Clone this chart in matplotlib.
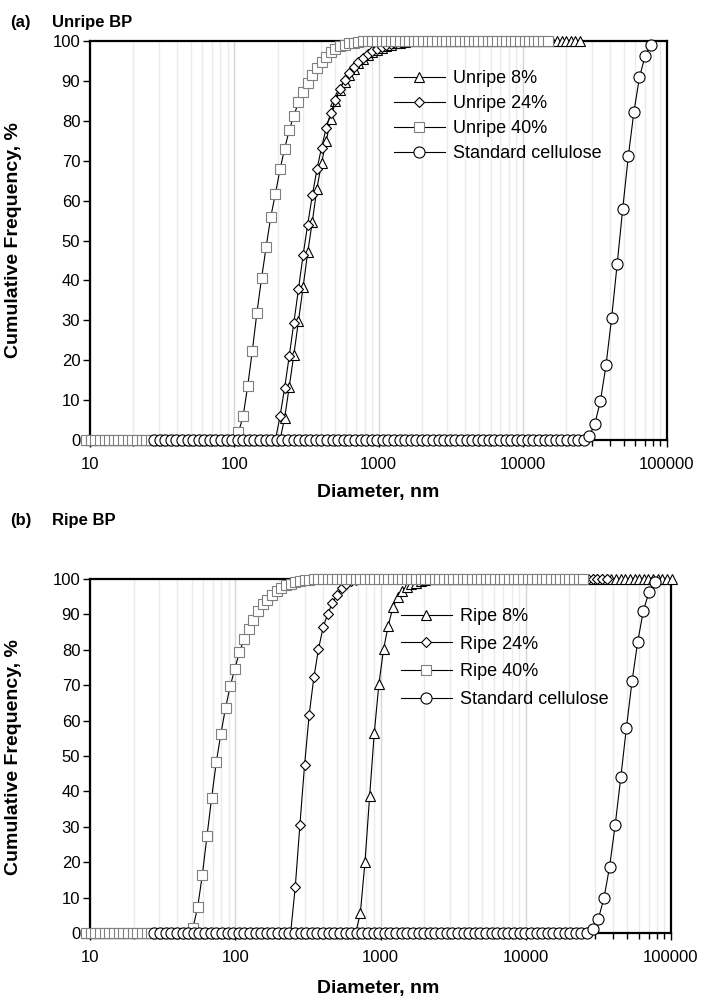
import matplotlib
matplotlib.use("Agg")
import matplotlib.pyplot as plt
from matplotlib.ticker import LogLocator, NullFormatter, FuncFormatter

plt.rcParams['font.family'] = ['Liberation Sans', 'DejaVu Sans']

# size classes of the BP samples (nm)
d_sample = [9.40, 10.12, 10.89, 11.73, 12.62, 13.59, 14.63, 15.74, 16.95, 18.24,
            19.64, 21.14, 22.76, 24.50, 26.37, 28.39, 30.56, 32.89, 35.41, 38.12,
            41.03, 44.17, 47.55, 51.18, 55.10, 59.31, 63.85, 68.73, 73.99, 79.64,
            85.74, 92.29, 99.35, 106.9, 115.1, 123.9, 133.4, 143.6, 154.6, 166.4,
            179.1, 192.8, 207.6, 223.4, 240.5, 258.9, 278.7, 300.0, 322.9, 347.6,
            374.2, 402.8, 433.6, 466.8, 502.5, 540.9, 582.3, 626.8, 674.7, 726.3,
            781.8, 841.6, 906.0, 975.2, 1050, 1130, 1217, 1310, 1410, 1517,
            1633, 1758, 1893, 2038, 2193, 2361, 2542, 2736, 2945, 3170,
            3413, 3673, 3954, 4257, 4582, 4933, 5310, 5716, 6153, 6623,
            7130, 7675, 8262, 8894, 9574, 10306, 11094, 11942, 12855, 13838,
            14896, 16035, 17262, 18582, 20003, 21532, 23178, 24951, 26858, 28911,
            31122, 33501, 36063, 38820, 41788, 44983, 48422, 52124, 56109, 60399,
            65017, 69988, 75339, 81099, 87299, 93974, 101160]

# size classes of the standard cellulose (nm)
d_cellulose = [27.80, 30.38, 33.21, 36.31, 39.69, 43.39, 47.44, 51.86, 56.68, 61.97,
               67.74, 74.06, 80.96, 88.49, 96.72, 105.7, 115.6, 126.3, 138.1, 151.0,
               165.1, 180.4, 197.2, 215.6, 235.7, 257.6, 281.6, 307.9, 336.5, 367.9,
               402.2, 439.6, 480.6, 525.3, 574.3, 627.8, 686.3, 750.3, 820.1, 896.6,
               980.1, 1071, 1171, 1280, 1399, 1530, 1672, 1828, 1998, 2184,
               2388, 2610, 2854, 3119, 3410, 3728, 4075, 4455, 4869, 5323,
               5819, 6361, 6954, 7601, 8309, 9083, 9929, 10854, 11865, 12971,
               14179, 15500, 16943, 18521, 20246, 22131, 24193, 26446, 28907, 31600,
               34544, 37761, 41278, 45121, 49325, 53919, 58941, 64430, 70430, 76990]

# cumulative frequency, %
unripe_8 = [0] * 43 + [5.5, 13.3, 21.4, 29.8, 38.3, 47, 54.7, 63, 69.4, 74.9,
                       80.4, 84.9, 87.6, 89.8, 91.6, 93.1, 94.4, 95.5, 96.4, 97.2,
                       97.8, 98.3, 98.8, 99.1, 99.4, 99.6, 99.8, 99.9] + [100] * 37
unripe_24 = [0] * 42 + [5.9, 13, 21, 29.4, 37.8, 46.3, 54, 61.3, 67.8, 73.3,
                        78.1, 82, 85.3, 88, 90.2, 92, 93.5, 94.8, 95.8, 96.7,
                        97.4, 98, 98.5, 98.9, 99.2, 99.5, 99.7, 99.85] + [100] * 31
unripe_40 = [0] * 33 + [1.9, 5.9, 13.5, 22.3, 31.9, 40.5, 48.4, 55.9, 61.7, 67.8,
                        73, 77.6, 81.3, 84.6, 87.2, 89.4, 91.4, 93.2, 94.8, 96.1,
                        97.2, 98, 98.7, 99.1, 99.4, 99.6, 99.8, 99.9] + [100] * 40
ripe_8 = [0] * 59 + [5.6, 20, 38.6, 56.5, 70.4, 80.2, 86.8, 92, 94.8, 96.6,
                     97.7, 98.5, 99, 99.4, 99.7, 99.9] + [100] * 52
ripe_24 = [0] * 45 + [13, 30.6, 47.4, 61.7, 72.2, 80.2, 86.4, 90.2, 93.2, 95.6,
                      97.5, 98.6, 99.3, 99.7, 99.9] + [100] * 53
ripe_40 = [0] * 23 + [1.5, 7.3, 16.3, 27.3, 38.1, 48.2, 56.3, 63.6, 69.7, 74.7,
                      79.3, 83.1, 85.9, 88.5, 90.9, 92.8, 94.2, 95.4, 96.5, 97.5,
                      98.2, 98.7, 99.1, 99.4, 99.6, 99.8, 99.9] + [100] * 58
cellulose = [0] * 78 + [1, 4, 9.8, 18.7, 30.5, 44, 58, 71.1, 82.2, 90.9, 96.2, 99.1]

W, H = 709, 999
fig = plt.figure(figsize=(W / 100, H / 100), dpi=100)


def box(left, right, top, bottom):
    return [left / W, 1 - bottom / H, (right - left) / W, (bottom - top) / H]


def panel(ax, curves, names, legend_pos, spacing):
    styles = [('^', 'black', 7.6), ('D', 'black', 5.6), ('s', '#7f7f7f', 7.0), ('o', 'black', 8.0)]
    for i, ((x, y), name, (m, ec, ms)) in enumerate(zip(curves, names, styles)):
        ax.plot(x[:len(y)], y, color='black', lw=0.8, marker=m, ms=ms, mfc='white',
                mec=ec, mew=0.8, label=name, clip_on=False, zorder=3 + i)
    ax.set_xscale('log')
    ax.set_xlim(10, 100000)
    ax.set_ylim(0, 100)
    ax.set_yticks(range(0, 101, 10))
    ax.xaxis.set_major_formatter(FuncFormatter(lambda v, p: '%d' % round(v)))
    ax.xaxis.set_minor_locator(LogLocator(base=10, subs=range(2, 10)))
    ax.xaxis.set_minor_formatter(NullFormatter())
    ax.set_axisbelow(True)
    ax.grid(True, which='minor', axis='x', color='#ebebeb', lw=1)
    ax.grid(True, which='major', axis='x', color='#d6d6d6', lw=1)
    for s in ax.spines.values():
        s.set_linewidth(1.6)
    ax.tick_params(which='major', direction='out', length=5, width=1, labelsize=12)
    ax.tick_params(axis='x', which='major', pad=7)
    ax.tick_params(axis='y', which='major', pad=2)
    ax.tick_params(which='minor', direction='out', length=4, width=1)
    ax.legend(loc='upper left', bbox_to_anchor=(legend_pos[0] / W, 1 - legend_pos[1] / H),
              bbox_transform=fig.transFigure, frameon=False, fontsize=13,
              handlelength=2.8, handletextpad=0.45, labelspacing=spacing,
              borderpad=0, borderaxespad=0, numpoints=1)


ax1 = fig.add_axes(box(90, 667, 41, 440))
panel(ax1, [(d_sample, unripe_8), (d_sample, unripe_24), (d_sample, unripe_40), (d_cellulose, cellulose)],
      ['Unripe 8%', 'Unripe 24%', 'Unripe 40%', 'Standard cellulose'], (394, 70), 0.44)

ax2 = fig.add_axes(box(90, 671, 579, 933))
panel(ax2, [(d_sample, ripe_8), (d_sample, ripe_24), (d_sample, ripe_40), (d_cellulose, cellulose)],
      ['Ripe 8%', 'Ripe 24%', 'Ripe 40%', 'Standard cellulose'], (401, 608), 0.59)

bold = dict(fontweight='bold', va='center')
fig.text(10 / W, 1 - 22 / H, '(a)', fontsize=12, **bold)
fig.text(52 / W, 1 - 22 / H, 'Unripe BP', fontsize=12, **bold)
fig.text(10 / W, 1 - 520 / H, '(b)', fontsize=12, **bold)
fig.text(52 / W, 1 - 520 / H, 'Ripe BP', fontsize=12, **bold)
for yc in (240, 757):
    fig.text(14 / W, 1 - yc / H, 'Cumulative Frequency, %', rotation=90, ha='center',
             fontsize=14, **bold)
for yc in (493, 988):
    fig.text(378 / W, 1 - yc / H, 'Diameter, nm', ha='center', fontsize=14, **bold)

fig.savefig('out.png', dpi=100)
